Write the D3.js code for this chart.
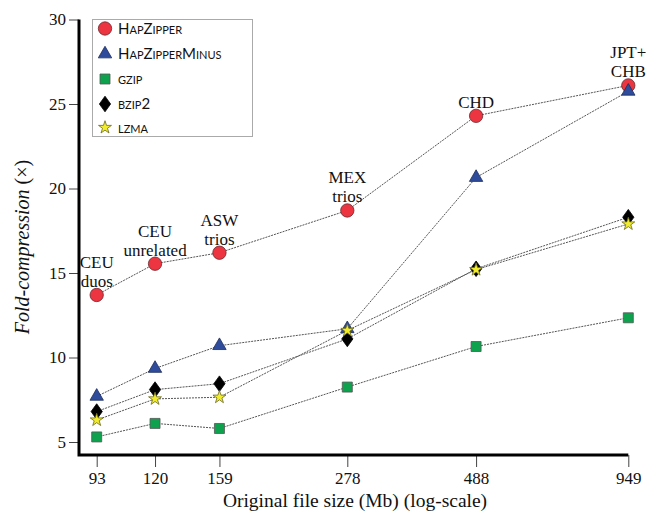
<!DOCTYPE html>
<html>
<head>
<meta charset="utf-8">
<script src="https://cdn.jsdelivr.net/npm/d3@7"></script>
<style>
  body { margin: 0; background: #fff; }
  svg { display: block; }
</style>
</head>
<body>
<div id="chart"></div>
<script>
// ---- data ----
const fileSizes = [93, 120, 159, 278, 488, 949];
const datasetLabels = [["CEU", "duos"], ["CEU", "unrelated"], ["ASW", "trios"], ["MEX", "trios"], ["CHD"], ["JPT+", "CHB"]];
const hapZipper      = [13.7, 15.55, 16.2, 18.7, 24.3, 26.1];
const hapZipperMinus = [7.7, 9.35, 10.7, 11.7, 20.65, 25.75];
const gzip           = [5.3, 6.1, 5.8, 8.25, 10.65, 12.35];
const bzip2          = [6.8, 8.1, 8.45, 11.1, 15.25, 18.3];
const lzma           = [6.3, 7.55, 7.65, 11.6, 15.2, 17.9];
const yTicks = [5, 10, 15, 20, 25, 30];

const width = 653, height = 511;

const x = d3.scaleLog()
  .domain([93, 949])
  .range([96.7, 628.3]);

const y = d3.scaleLinear()
  .domain([5, 30])
  .range([442, 19.5]);

const axisX = 79, axisY = 455;

// taller diamond than d3's built-in one
const tallDiamond = {
  draw(context, size) {
    const h = Math.sqrt(size) * 0.78, w = h * 0.72;
    context.moveTo(0, -h);
    context.lineTo(w, 0);
    context.lineTo(0, h);
    context.lineTo(-w, 0);
    context.closePath();
  }
};

const series = [
  {name: "HapZipper",      values: hapZipper,      type: d3.symbolCircle,   size: 140, fill: "#ec3540", stroke: "#6b2a2e"},
  {name: "HapZipperMinus", values: hapZipperMinus, type: d3.symbolTriangle, size: 78,  fill: "#2f4c9c", stroke: "#1d2d5c"},
  {name: "gzip",           values: gzip,           type: d3.symbolSquare,   size: 100, fill: "#0ea24f", stroke: "#555"},
  {name: "bzip2",          values: bzip2,          type: tallDiamond,       size: 100, fill: "#000",    stroke: "#000"},
  {name: "lzma",           values: lzma,           type: d3.symbolStar,     size: 52,  fill: "#f1ec2c", stroke: "#6b6a20"}
];

const serif = "'Liberation Serif', 'Times New Roman', serif";

const svg = d3.select("#chart").append("svg")
  .attr("width", width)
  .attr("height", height);

// ---- axes ----
const xAxis = g => g
  .attr("transform", `translate(0,${axisY})`)
  .call(d3.axisBottom(x).tickValues(fileSizes).tickFormat(d3.format("d")).tickSize(12).tickPadding(5))
  .call(g => g.select(".domain").remove())
  .call(g => g.selectAll(".tick line").attr("stroke", "#444"))
  .call(g => g.selectAll("text")
    .attr("font-family", serif)
    .attr("font-size", 17).attr("fill", "#111"));

const yAxis = g => g
  .attr("transform", `translate(${axisX},0)`)
  .call(d3.axisLeft(y).tickValues(yTicks).tickSize(10).tickPadding(3))
  .call(g => g.select(".domain").remove())
  .call(g => g.selectAll(".tick line").attr("stroke", "#444"))
  .call(g => g.selectAll("text")
    .attr("font-family", serif)
    .attr("font-size", 17).attr("fill", "#111"));

svg.append("g").call(xAxis);
svg.append("g").call(yAxis);

// thick axis frame
svg.append("path")
  .attr("d", `M${axisX},${y(30)}V${axisY}H${x(949)}`)
  .attr("fill", "none")
  .attr("stroke", "#000")
  .attr("stroke-width", 3);

// axis titles
svg.append("text")
  .attr("x", 355)
  .attr("y", 507)
  .attr("text-anchor", "middle")
  .attr("font-family", serif)
  .attr("font-size", 19.5)
  .attr("fill", "#111")
  .text("Original file size (Mb) (log-scale)");

const yTitle = svg.append("text")
  .attr("transform", "translate(29,247) rotate(-90)")
  .attr("text-anchor", "middle")
  .attr("font-family", serif)
  .attr("font-size", 20)
  .attr("fill", "#111");
yTitle.append("tspan").attr("font-style", "italic").text("Fold-compression");
yTitle.append("tspan").text(" (\u00d7)");

// ---- lines ----
const line = d3.line()
  .x((d, i) => x(fileSizes[i]))
  .y(d => y(d));

svg.append("g")
  .selectAll("path")
  .data(series)
  .join("path")
  .attr("d", d => line(d.values))
  .attr("fill", "none")
  .attr("stroke", "#555")
  .attr("stroke-width", 1)
  .attr("stroke-dasharray", "2,1");

// ---- markers ----
svg.append("g")
  .selectAll("g")
  .data(series)
  .join("g")
  .each(function(s) {
    d3.select(this).selectAll("path")
      .data(s.values)
      .join("path")
      .attr("transform", (d, i) => `translate(${x(fileSizes[i])},${y(d)})`)
      .attr("d", d3.symbol().type(s.type).size(s.size))
      .attr("fill", s.fill)
      .attr("stroke", s.stroke)
      .attr("stroke-width", 0.8);
  });

// ---- dataset annotations above HapZipper points ----
const ann = svg.append("g")
  .attr("font-family", serif)
  .attr("font-size", 17)
  .attr("fill", "#111")
  .attr("text-anchor", "middle");

datasetLabels.forEach((lines, i) => {
  const px = x(fileSizes[i]), py = y(hapZipper[i]);
  lines.forEach((t, j) => {
    ann.append("text")
      .attr("x", px)
      .attr("y", py - 8 - (lines.length - 1 - j) * 19)
      .text(t);
  });
});

// ---- legend ----
const legend = svg.append("g");
legend.append("rect")
  .attr("x", 92.5)
  .attr("y", 19.5)
  .attr("width", 160)
  .attr("height", 117)
  .attr("fill", "#fff")
  .attr("stroke", "#aaa");

const rowY = [28.5, 54, 79, 104, 127.5];
const items = legend.selectAll(".item")
  .data(series)
  .join("g")
  .attr("class", "item")
  .attr("transform", (d, i) => `translate(105,${rowY[i]})`);

items.append("path")
  .attr("d", d => d3.symbol().type(d.type).size(d.size)())
  .attr("fill", d => d.fill)
  .attr("stroke", d => d.stroke)
  .attr("stroke-width", 0.8);

items.append("text")
  .attr("x", 13)
  .attr("dy", "0.36em")
  .attr("font-family", "Lato, 'Liberation Sans', sans-serif")
  .attr("font-size", 15)
  .attr("font-variant", "small-caps")
  .attr("fill", "#111")
  .text(d => d.name);
</script>
</body>
</html>
